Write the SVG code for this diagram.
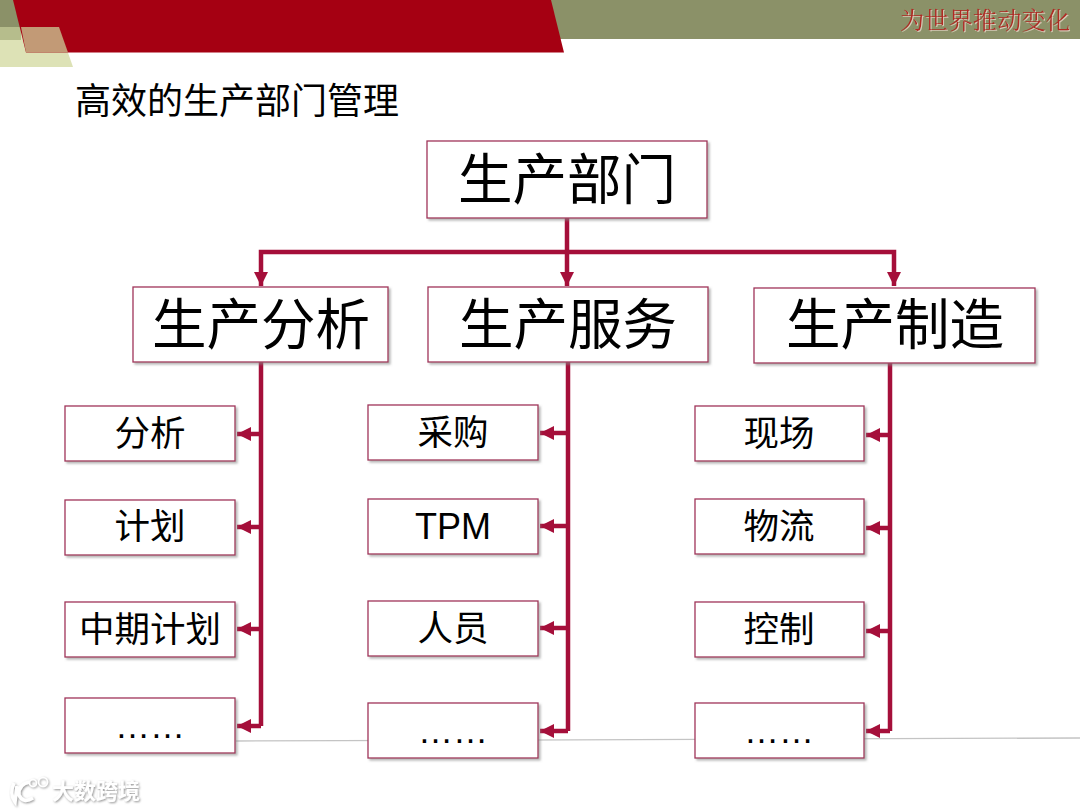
<svg xmlns="http://www.w3.org/2000/svg" width="1080" height="810" viewBox="0 0 1080 810">
<defs>
<filter id="sh" x="-5%" y="-5%" width="112%" height="120%"><feDropShadow dx="2" dy="2" stdDeviation="1.2" flood-color="#888" flood-opacity="0.6"/></filter>
<filter id="wm" x="-5%" y="-10%" width="110%" height="125%"><feDropShadow dx="1" dy="1" stdDeviation="0.8" flood-color="#777" flood-opacity="0.8"/></filter>
<filter id="ts" x="-5%" y="-10%" width="110%" height="130%"><feDropShadow dx="1" dy="1" stdDeviation="0.5" flood-color="#e8d8c8" flood-opacity="0.8"/></filter>
<marker id="ah" markerUnits="userSpaceOnUse" markerWidth="16" markerHeight="16" refX="14" refY="8" orient="auto"><path d="M0,1 L14,8 L0,15 Z" fill="#a50f3a"/></marker>
</defs>
<style>
text{font-family:"Noto Sans CJK SC","Liberation Sans",sans-serif;fill:#000;text-anchor:middle}
.box{fill:#fff;stroke:#a0355a;stroke-width:1.3;filter:url(#sh)}
.big{font-size:54.5px}
.mid{font-size:35.5px}
.dots{font-family:"Liberation Sans",sans-serif;font-size:35px}
.con{fill:none;stroke:#a50f3a;stroke-width:4.5}
.arr{marker-end:url(#ah)}
</style>
<rect width="1080" height="810" fill="#fff"/>
<g id="header">
<rect x="0" y="0" width="1080" height="39" fill="#8b9168"/>
<polygon points="0,27 59,27 73,67 0,67" fill="#dde2b6"/>
<rect x="0" y="27" width="21" height="13" fill="#b6bd8c"/>
<polygon points="13,0 551,0 564,52.5 26,52.5" fill="#a50012"/>
<polygon points="21,27 59,27 68,52.5 26,52.5" fill="#c29a76"/>
<text x="985" y="28.5" filter="url(#ts)" style="font-family:'Noto Serif CJK SC','Liberation Serif','Noto Sans CJK SC',serif;fill:#b02a24;font-size:24.3px">为世界推动变化</text>
</g>
<text x="237" y="114" style="font-size:36px" textLength="324" lengthAdjust="spacingAndGlyphs">高效的生产部门管理</text>
<line x1="236" y1="741" x2="1080" y2="738" stroke="#c4c4c4" stroke-width="1.3"/>
<g id="connectors">
<path class="con" d="M567,218 V252"/>
<path class="con arr" d="M567,252 H261 V286"/>
<path class="con arr" d="M567,252 V286"/>
<path class="con arr" d="M567,252 H894 V286"/>
<path class="con" d="M261,362 V726"/>
<path class="con arr" d="M261,434 H237"/>
<path class="con arr" d="M261,527 H237"/>
<path class="con arr" d="M261,629 H237"/>
<path class="con arr" d="M261,726 H237"/>
<path class="con" d="M568,362 V731"/>
<path class="con arr" d="M568,433 H540"/>
<path class="con arr" d="M568,526 H540"/>
<path class="con arr" d="M568,628 H540"/>
<path class="con arr" d="M568,731 H540"/>
<path class="con" d="M890,363 V731"/>
<path class="con arr" d="M890,435 H866"/>
<path class="con arr" d="M890,528 H866"/>
<path class="con arr" d="M890,631 H866"/>
<path class="con arr" d="M890,731 H866"/>
</g>
<g id="n-root"><rect class="box" x="427" y="141" width="280" height="77"/><text class="big" x="567" y="199">生产部门</text></g>
<g id="n-analysis"><rect class="box" x="133" y="287" width="255" height="75"/><text class="big" x="261" y="344">生产分析</text></g>
<g id="n-service"><rect class="box" x="428" y="287" width="280" height="75"/><text class="big" x="568" y="344">生产服务</text></g>
<g id="n-make"><rect class="box" x="754" y="288" width="281" height="75"/><text class="big" x="895" y="344">生产制造</text></g>
<g id="a1"><rect class="box" x="65" y="406" width="170" height="55"/><text class="mid" x="150" y="446">分析</text></g>
<g id="a2"><rect class="box" x="65" y="500" width="170" height="55"/><text class="mid" x="150" y="539">计划</text></g>
<g id="a3"><rect class="box" x="65" y="602" width="170" height="55"/><text class="mid" x="150" y="642">中期计划</text></g>
<g id="a4"><rect class="box" x="65" y="698" width="170" height="55"/><text class="dots" x="150" y="738">……</text></g>
<g id="b1"><rect class="box" x="368" y="405" width="170" height="55"/><text class="mid" x="453" y="445">采购</text></g>
<g id="b2"><rect class="box" x="368" y="499" width="170" height="55"/><text class="mid" x="453" y="539" style="font-family:'Liberation Sans',sans-serif;font-size:36px">TPM</text></g>
<g id="b3"><rect class="box" x="368" y="601" width="170" height="55"/><text class="mid" x="453" y="641">人员</text></g>
<g id="b4"><rect class="box" x="368" y="703" width="170" height="55"/><text class="dots" x="453" y="743">……</text></g>
<g id="c1"><rect class="box" x="695" y="406" width="169" height="55"/><text class="mid" x="779" y="446">现场</text></g>
<g id="c2"><rect class="box" x="695" y="499" width="169" height="55"/><text class="mid" x="779" y="539">物流</text></g>
<g id="c3"><rect class="box" x="695" y="602" width="169" height="55"/><text class="mid" x="779" y="642">控制</text></g>
<g id="c4"><rect class="box" x="695" y="703" width="169" height="55"/><text class="dots" x="779" y="743">……</text></g>
<g id="watermark" filter="url(#wm)">
<path d="M14,783 Q9,794 15,802 L17,786 M30,782 Q18,784 19,795 Q23,804 33,798" fill="none" stroke="#fff" stroke-width="3.5"/>
<circle cx="33" cy="783" r="3.5" fill="none" stroke="#fff" stroke-width="1.6"/>
<circle cx="43" cy="782" r="4.5" fill="none" stroke="#fff" stroke-width="1.6"/>
<text x="96" y="799" style="fill:#fff;font-size:22px;font-weight:700">大数跨境</text>
</g>
</svg>
